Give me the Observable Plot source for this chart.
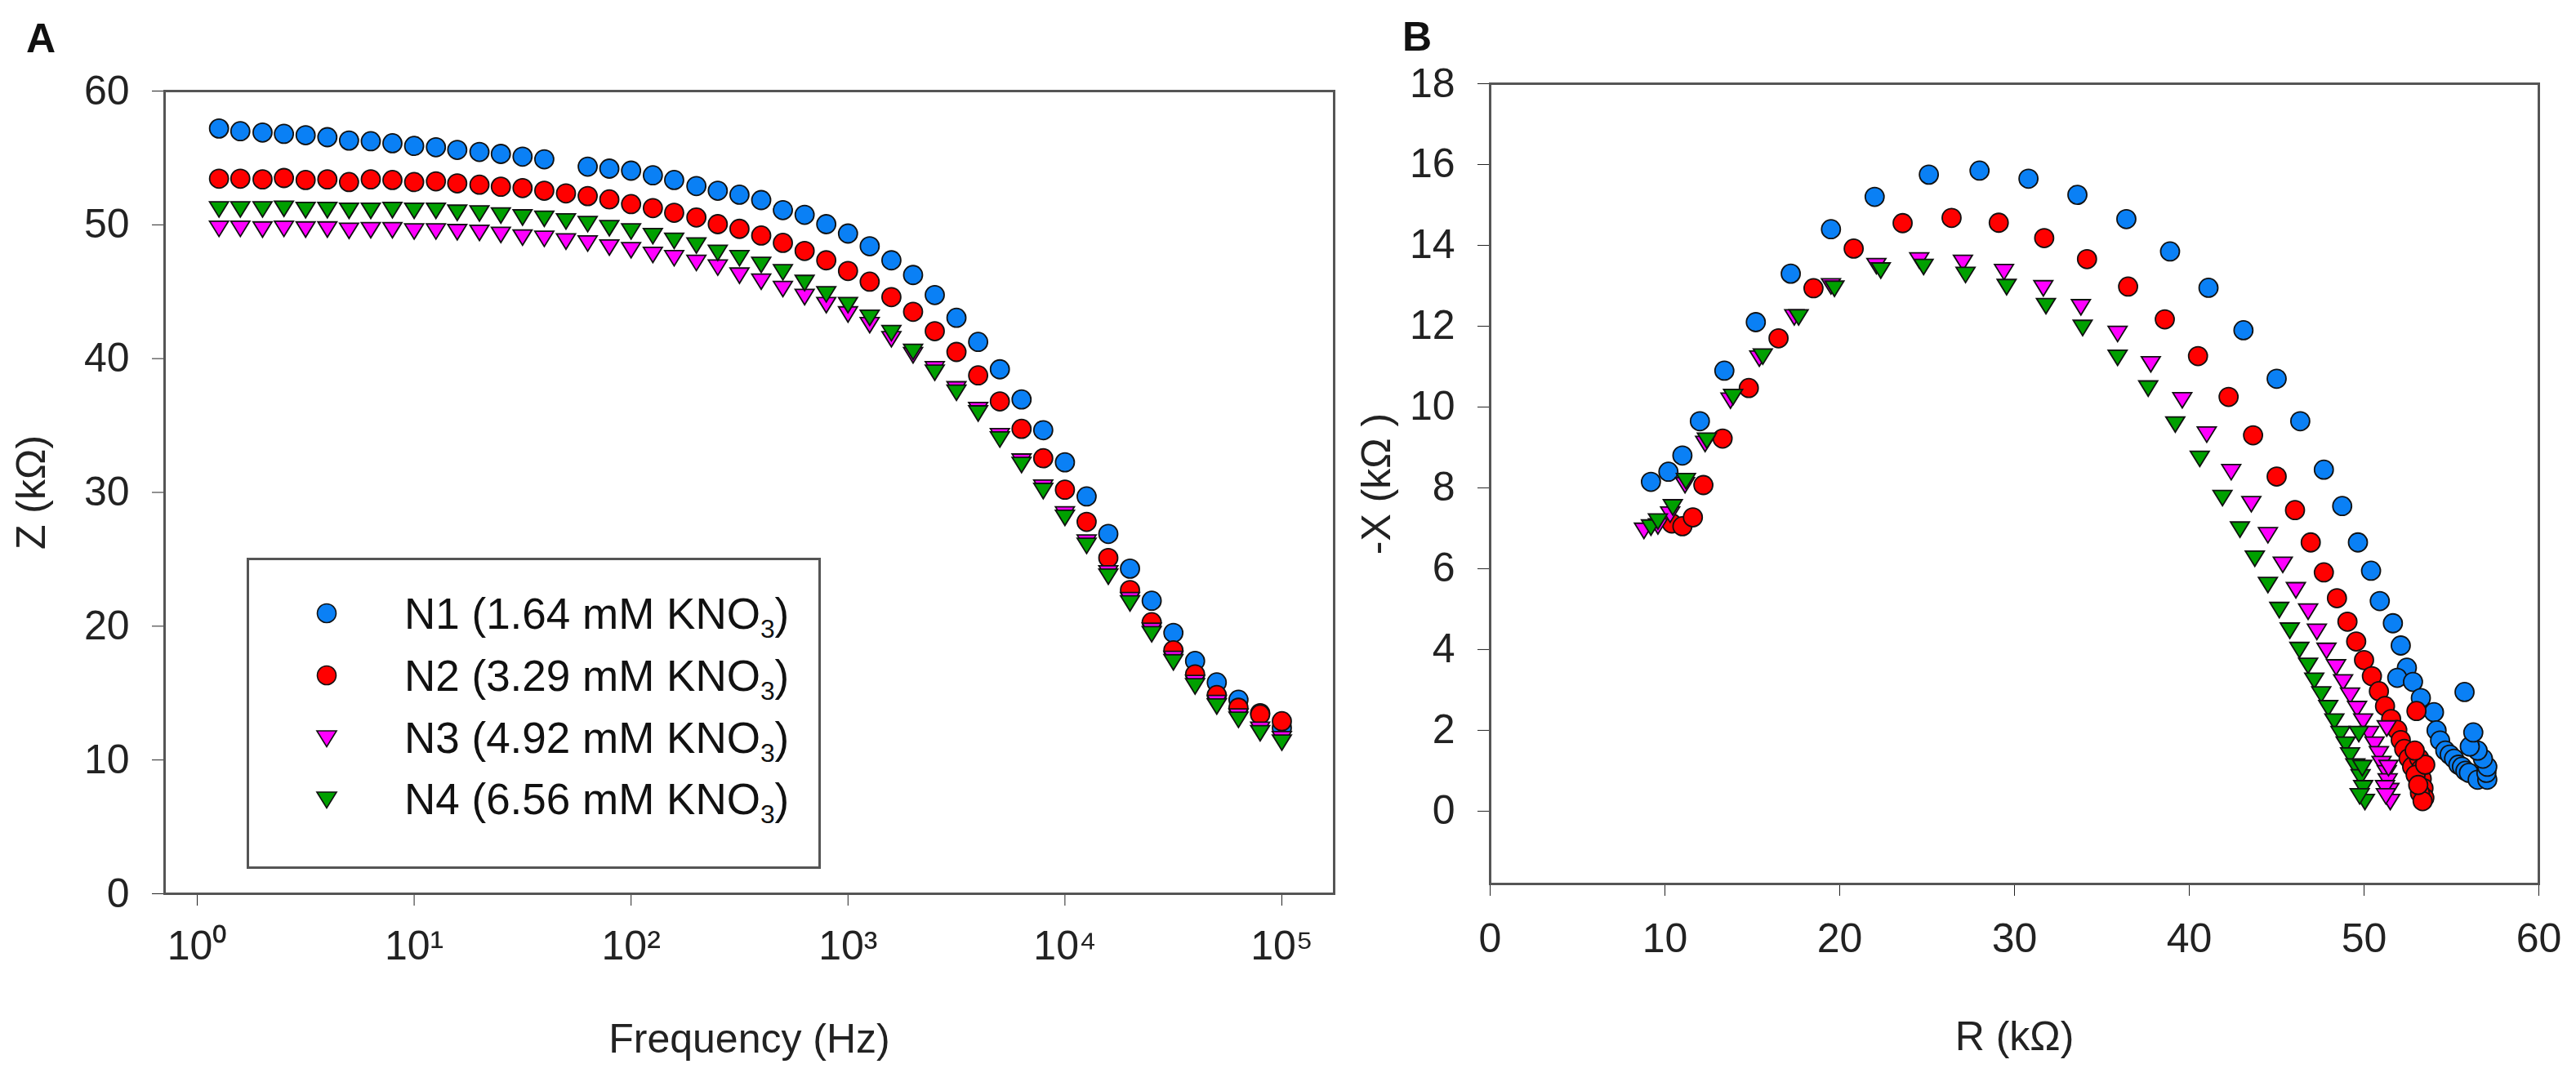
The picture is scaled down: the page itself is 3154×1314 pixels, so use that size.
<!DOCTYPE html>
<html>
<head>
<meta charset="utf-8">
<script src="https://cdn.jsdelivr.net/npm/d3@7"></script>
<script src="https://cdn.jsdelivr.net/npm/@observablehq/plot@0.6"></script>
<style>
  body { margin: 0; background: #fff; }
  #fig { position: relative; width: 3154px; height: 1314px; overflow: hidden;
         font-family: "Liberation Sans", Arial, sans-serif; color: #111; }
  .panel { position: absolute; top: 0; }
  .tag { position: absolute; font-weight: bold; font-size: 50px; line-height: 1; }
  #legend { position: absolute; left: 302px; top: 683px; width: 697px; height: 375px;
            border: 3px solid #555; background: #fff; }
  .row { position: absolute; left: 0; height: 60px; display: flex; align-items: center; font-size: 53px; }
  .row svg { position: absolute; left: 75px; }
  .row span.txt { position: absolute; left: 190px; white-space: nowrap; }
  .row sub { font-size: 0.6em; vertical-align: -0.35em; line-height: 0; }
</style>
</head>
<body>
<div id="fig">
  <div id="graphA" class="panel" style="left:0px"></div>
  <div id="graphB" class="panel" style="left:1640px"></div>
  <div class="tag" style="left:32px; top:22px">A</div>
  <div class="tag" style="left:1717px; top:20px">B</div>
  <div id="legend"></div>
</div>
<script>
// series
const seriesNames = ["N1 (1.64 mM KNO₃)", "N2 (3.29 mM KNO₃)", "N3 (4.92 mM KNO₃)", "N4 (6.56 mM KNO₃)"];
const seriesColors = ["#0a80f5", "#ff0000", "#ff00ff", "#00a000"];

// panel A: |Z| vs frequency
const frequency = [1.26, 1.58, 2.0, 2.51, 3.16, 3.98, 5.01, 6.31, 7.94, 10,
  12.6, 15.8, 20.0, 25.1, 31.6, 39.8, 50.1, 63.1, 79.4, 100,
  126, 158, 200, 251, 316, 398, 501, 631, 794, 1000,
  1259, 1585, 1995, 2512, 3162, 3981, 5012, 6310, 7943, 10000,
  12589, 15849, 19953, 25119, 31623, 39811, 50119, 63096, 79433, 100000];
const zN1 = [57.2, 57.0, 56.9, 56.8, 56.7, 56.55, 56.3, 56.25, 56.1, 55.9,
  55.8, 55.6, 55.45, 55.3, 55.1, 54.9, null, 54.35, 54.2, 54.05,
  53.7, 53.35, 52.9, 52.55, 52.25, 51.85, 51.1, 50.75, 50.05, 49.35,
  48.4, 47.35, 46.25, 44.75, 43.05, 41.25, 39.2, 36.95, 34.65, 32.25,
  29.7, 26.9, 24.3, 21.9, 19.5, 17.4, 15.8, 14.5, 13.5, 12.4];
const zN2 = [53.45, 53.45, 53.4, 53.5, 53.35, 53.4, 53.2, 53.4, 53.35, 53.2,
  53.25, 53.1, 53.0, 52.85, 52.75, 52.55, 52.35, 52.15, 51.9, 51.55,
  51.25, 50.9, 50.55, 50.05, 49.7, 49.2, 48.65, 48.05, 47.35, 46.55,
  45.75, 44.6, 43.5, 42.05, 40.5, 38.75, 36.8, 34.75, 32.55, 30.2,
  27.8, 25.1, 22.7, 20.3, 18.2, 16.4, 14.85, 13.9, 13.4, 12.9];
const zN3 = [49.8, 49.8, 49.75, 49.8, 49.75, 49.75, 49.65, 49.7, 49.7, 49.6,
  49.6, 49.55, 49.5, 49.35, 49.15, 49.05, 48.85, 48.7, 48.4, 48.2,
  47.85, 47.6, 47.25, 46.9, 46.3, 45.85, 45.3, 44.7, 44.1, 43.4,
  42.6, 41.55, 40.35, 39.3, 37.8, 36.25, 34.3, 32.4, 30.45, 28.45,
  26.35, 24.05, 22.05, 19.75, 17.65, 15.85, 14.35, 13.35, 12.35, 11.65];
const zN4 = [51.25, 51.25, 51.25, 51.3, 51.2, 51.2, 51.15, 51.15, 51.2, 51.15,
  51.15, 51.0, 50.95, 50.8, 50.65, 50.55, 50.35, 50.15, 49.85, 49.6,
  49.25, 48.9, 48.55, 48.0, 47.6, 47.1, 46.55, 45.75, 44.9, 44.1,
  43.15, 42.0, 40.6, 39.05, 37.55, 36.0, 34.05, 32.15, 30.2, 28.2,
  26.1, 23.8, 21.8, 19.5, 17.4, 15.6, 14.1, 13.1, 12.1, 11.4];
const freqTicks = [1, 10, 100, 1000, 10000, 100000];
const freqTickLabels = ["10⁰", "10¹", "10²", "10³", "10⁴", "10⁵"];
const zTicks = [0, 10, 20, 30, 40, 50, 60];

// panel B: Nyquist, R and -X
const rN1 = [9.2, 10.2, 11.0, 12.0, 13.4, 15.2, 17.2, 19.5, 22.0, 25.1, 28.0, 30.8, 33.6, 36.4, 38.9, 41.1, 43.1,
  45.0, 46.35, 47.7, 48.75, 49.65, 50.4, 50.9, 51.65, 52.1, 52.45, 51.9, 52.8, 53.25, 54.0, 54.15, 54.35,
  54.65, 54.9, 55.15, 55.4, 55.6, 55.8, 56.0, 56.5, 57.05, 57.0, 57.05, 56.8, 56.5, 56.05, 56.25, 55.75];
const xN1 = [8.15, 8.4, 8.8, 9.65, 10.9, 12.1, 13.3, 14.4, 15.2, 15.75, 15.85, 15.65, 15.25, 14.65, 13.85, 12.95, 11.9,
  10.7, 9.65, 8.45, 7.55, 6.65, 5.95, 5.2, 4.65, 4.1, 3.55, 3.3, 3.2, 2.8, 2.45, 2.0, 1.75,
  1.5, 1.4, 1.3, 1.15, 1.1, 1.0, 0.95, 0.78, 0.78, 0.95, 1.1, 1.3, 1.5, 1.6, 1.95, 2.95];
const rN2 = [10.4, 11.0, 11.6, 12.2, 13.3, 14.8, 16.5, 18.5, 20.8, 23.6, 26.4, 29.1, 31.7, 34.15, 36.5, 38.6,
  40.5, 42.25, 43.65, 45.0, 46.05, 46.95, 47.7, 48.45, 49.05, 49.55, 50.0, 50.45, 50.85, 51.2, 51.55, 51.9,
  52.1, 52.3, 52.55, 52.75, 53.0, 53.15, 53.25, 53.3, 53.4, 53.45, 52.95, 53.2, 53.35, 53.1, 53.5, 52.9];
const xN2 = [7.12, 7.05, 7.27, 8.07, 9.22, 10.47, 11.7, 12.94, 13.92, 14.55, 14.68, 14.56, 14.18, 13.66, 12.98, 12.17,
  11.26, 10.25, 9.3, 8.28, 7.45, 6.65, 5.91, 5.27, 4.69, 4.2, 3.74, 3.34, 2.97, 2.6, 2.28, 2.01,
  1.76, 1.54, 1.31, 1.1, 2.48, 1.31, 1.04, 0.8, 0.57, 0.33, 0.9, 0.45, 0.25, 0.65, 1.15, 1.5];
const rN3 = [8.8, 9.6, 10.3, 11.15, 12.3, 13.75, 15.4, 17.4, 19.5, 22.1, 24.55, 27.05, 29.4, 31.65, 33.8, 35.9,
  37.8, 39.6, 41.0, 42.4, 43.55, 44.5, 45.35, 46.1, 46.8, 47.3, 47.85, 48.4, 48.8, 49.2, 49.6, 49.95,
  50.3, 50.6, 50.85, 51.0, 51.3, 51.3, 51.35, 51.45, 51.5, 51.2, 51.4, 51.25];
const xN3 = [6.97, 7.08, 7.37, 8.1, 9.12, 10.19, 11.23, 12.25, 13.02, 13.52, 13.66, 13.6, 13.37, 12.97, 12.5, 11.84,
  11.09, 10.2, 9.35, 8.42, 7.63, 6.86, 6.13, 5.5, 4.97, 4.47, 4.0, 3.59, 3.22, 2.89, 2.56, 2.25,
  1.94, 1.68, 1.44, 1.2, 2.08, 0.97, 0.77, 0.53, 0.26, 0.6, 1.1, 0.4];
const rN4 = [9.2, 9.6, 10.45, 11.2, 12.4, 13.9, 15.6, 17.65, 19.7, 22.35, 24.8, 27.2, 29.55, 31.8, 33.9, 35.9,
  37.65, 39.2, 40.6, 41.9, 42.9, 43.75, 44.5, 45.15, 45.75, 46.3, 46.8, 47.15, 47.55, 47.95, 48.3, 48.65,
  48.95, 49.2, 49.5, 49.7, 49.8, 49.9, 49.95, 50.05, 49.75];
const xN4 = [7.05, 7.2, 7.55, 8.2, 9.2, 10.28, 11.28, 12.25, 12.96, 13.41, 13.5, 13.3, 13.0, 12.53, 11.99, 11.25,
  10.49, 9.6, 8.75, 7.78, 7.0, 6.28, 5.63, 5.01, 4.5, 4.02, 3.63, 3.26, 2.92, 2.58, 2.25, 1.94,
  1.68, 1.41, 1.14, 1.94, 0.87, 1.1, 0.6, 0.26, 0.4];
const rTicks = [0, 10, 20, 30, 40, 50, 60];
const xTicks = [0, 2, 4, 6, 8, 10, 12, 14, 16, 18];

// downward triangle for N3/N4
const triangleDown = {
  draw(context, size) {
    const r = Math.sqrt(size / Math.PI);
    context.moveTo(-r * 1.05, -r * 0.7);
    context.lineTo(r * 1.05, -r * 0.7);
    context.lineTo(0, r * 1.0);
    context.closePath();
  }
};
const seriesSymbols = ["circle", "circle", triangleDown, triangleDown];

const zSeries = [zN1, zN2, zN3, zN4];
const bodeData = zSeries.map((zs, s) =>
  frequency.map((f, i) => ({f, z: zs[i]})).filter(d => d.z != null));
const nyqR = [rN1, rN2, rN3, rN4];
const nyqX = [xN1, xN2, xN3, xN4];
const nyqData = nyqR.map((rs, s) => rs.map((r, i) => ({r, x: nyqX[s][i]})));

const font = "'Liberation Sans', Arial, sans-serif";

const dotsFor = (data, s, xk, yk) => Plot.dot(data, {
  x: xk, y: yk,
  symbol: seriesSymbols[s],
  r: s < 2 ? 11.5 : 11,
  fill: seriesColors[s],
  stroke: "#111",
  strokeWidth: 1.8
});

const plotA = Plot.plot({
  width: 1700, height: 1314,
  marginLeft: 201, marginRight: 67, marginTop: 111, marginBottom: 220,
  style: {fontFamily: font, fontSize: "50px", color: "#222", background: "transparent", overflow: "visible"},
  x: {type: "log", domain: [0.707, 174200], ticks: freqTicks,
      tickFormat: d => freqTickLabels[freqTicks.indexOf(d)] ?? "",
      tickSize: 15, tickPadding: 30, label: "Frequency (Hz)", labelAnchor: "center", labelOffset: 194, labelArrow: "none"},
  y: {domain: [0, 60], ticks: zTicks, tickSize: 15, tickPadding: 28,
      label: "Z (kΩ)", labelAnchor: "center", labelOffset: 182, labelArrow: "none"},
  marks: [
    Plot.frame({stroke: "#555", strokeWidth: 3}),
    ...bodeData.map((d, s) => dotsFor(d, s, "f", "z"))
  ]
});
document.querySelector("#graphA").append(plotA);

const plotB = Plot.plot({
  width: 1514, height: 1314,
  marginLeft: 184, marginRight: 46, marginTop: 102, marginBottom: 232,
  style: {fontFamily: font, fontSize: "50px", color: "#222", background: "transparent", overflow: "visible"},
  x: {domain: [0, 60], ticks: rTicks, tickSize: 15, tickPadding: 33,
      label: "R (kΩ)", labelAnchor: "center", labelOffset: 203, labelArrow: "none"},
  y: {domain: [-1.8, 18], ticks: xTicks, tickSize: 15, tickPadding: 28,
      label: "-X (kΩ )", labelAnchor: "center", labelOffset: 158, labelArrow: "none"},
  marks: [
    Plot.frame({stroke: "#555", strokeWidth: 3}),
    ...nyqData.map((d, s) => dotsFor(d, s, "r", "x"))
  ]
});
document.querySelector("#graphB").append(plotB);

// legend box inside panel A
const legendRowTops = [35, 111, 187, 262];
const legend = d3.select("#legend");
seriesNames.forEach((name, s) => {
  const row = legend.append("div").attr("class", "row").style("top", legendRowTops[s] + "px");
  const svg = row.append("svg").attr("width", 40).attr("height", 40).attr("viewBox", "-20 -20 40 40");
  const type = s < 2 ? d3.symbolCircle : triangleDown;
  svg.append("path")
    .attr("d", d3.symbol(type, Math.PI * 11.5 * 11.5)())
    .attr("fill", seriesColors[s])
    .attr("stroke", "#111")
    .attr("stroke-width", 1.6);
  row.append("span").attr("class", "txt").html(name.replace("₃", "<sub>3</sub>"));
});
</script>
</body>
</html>
